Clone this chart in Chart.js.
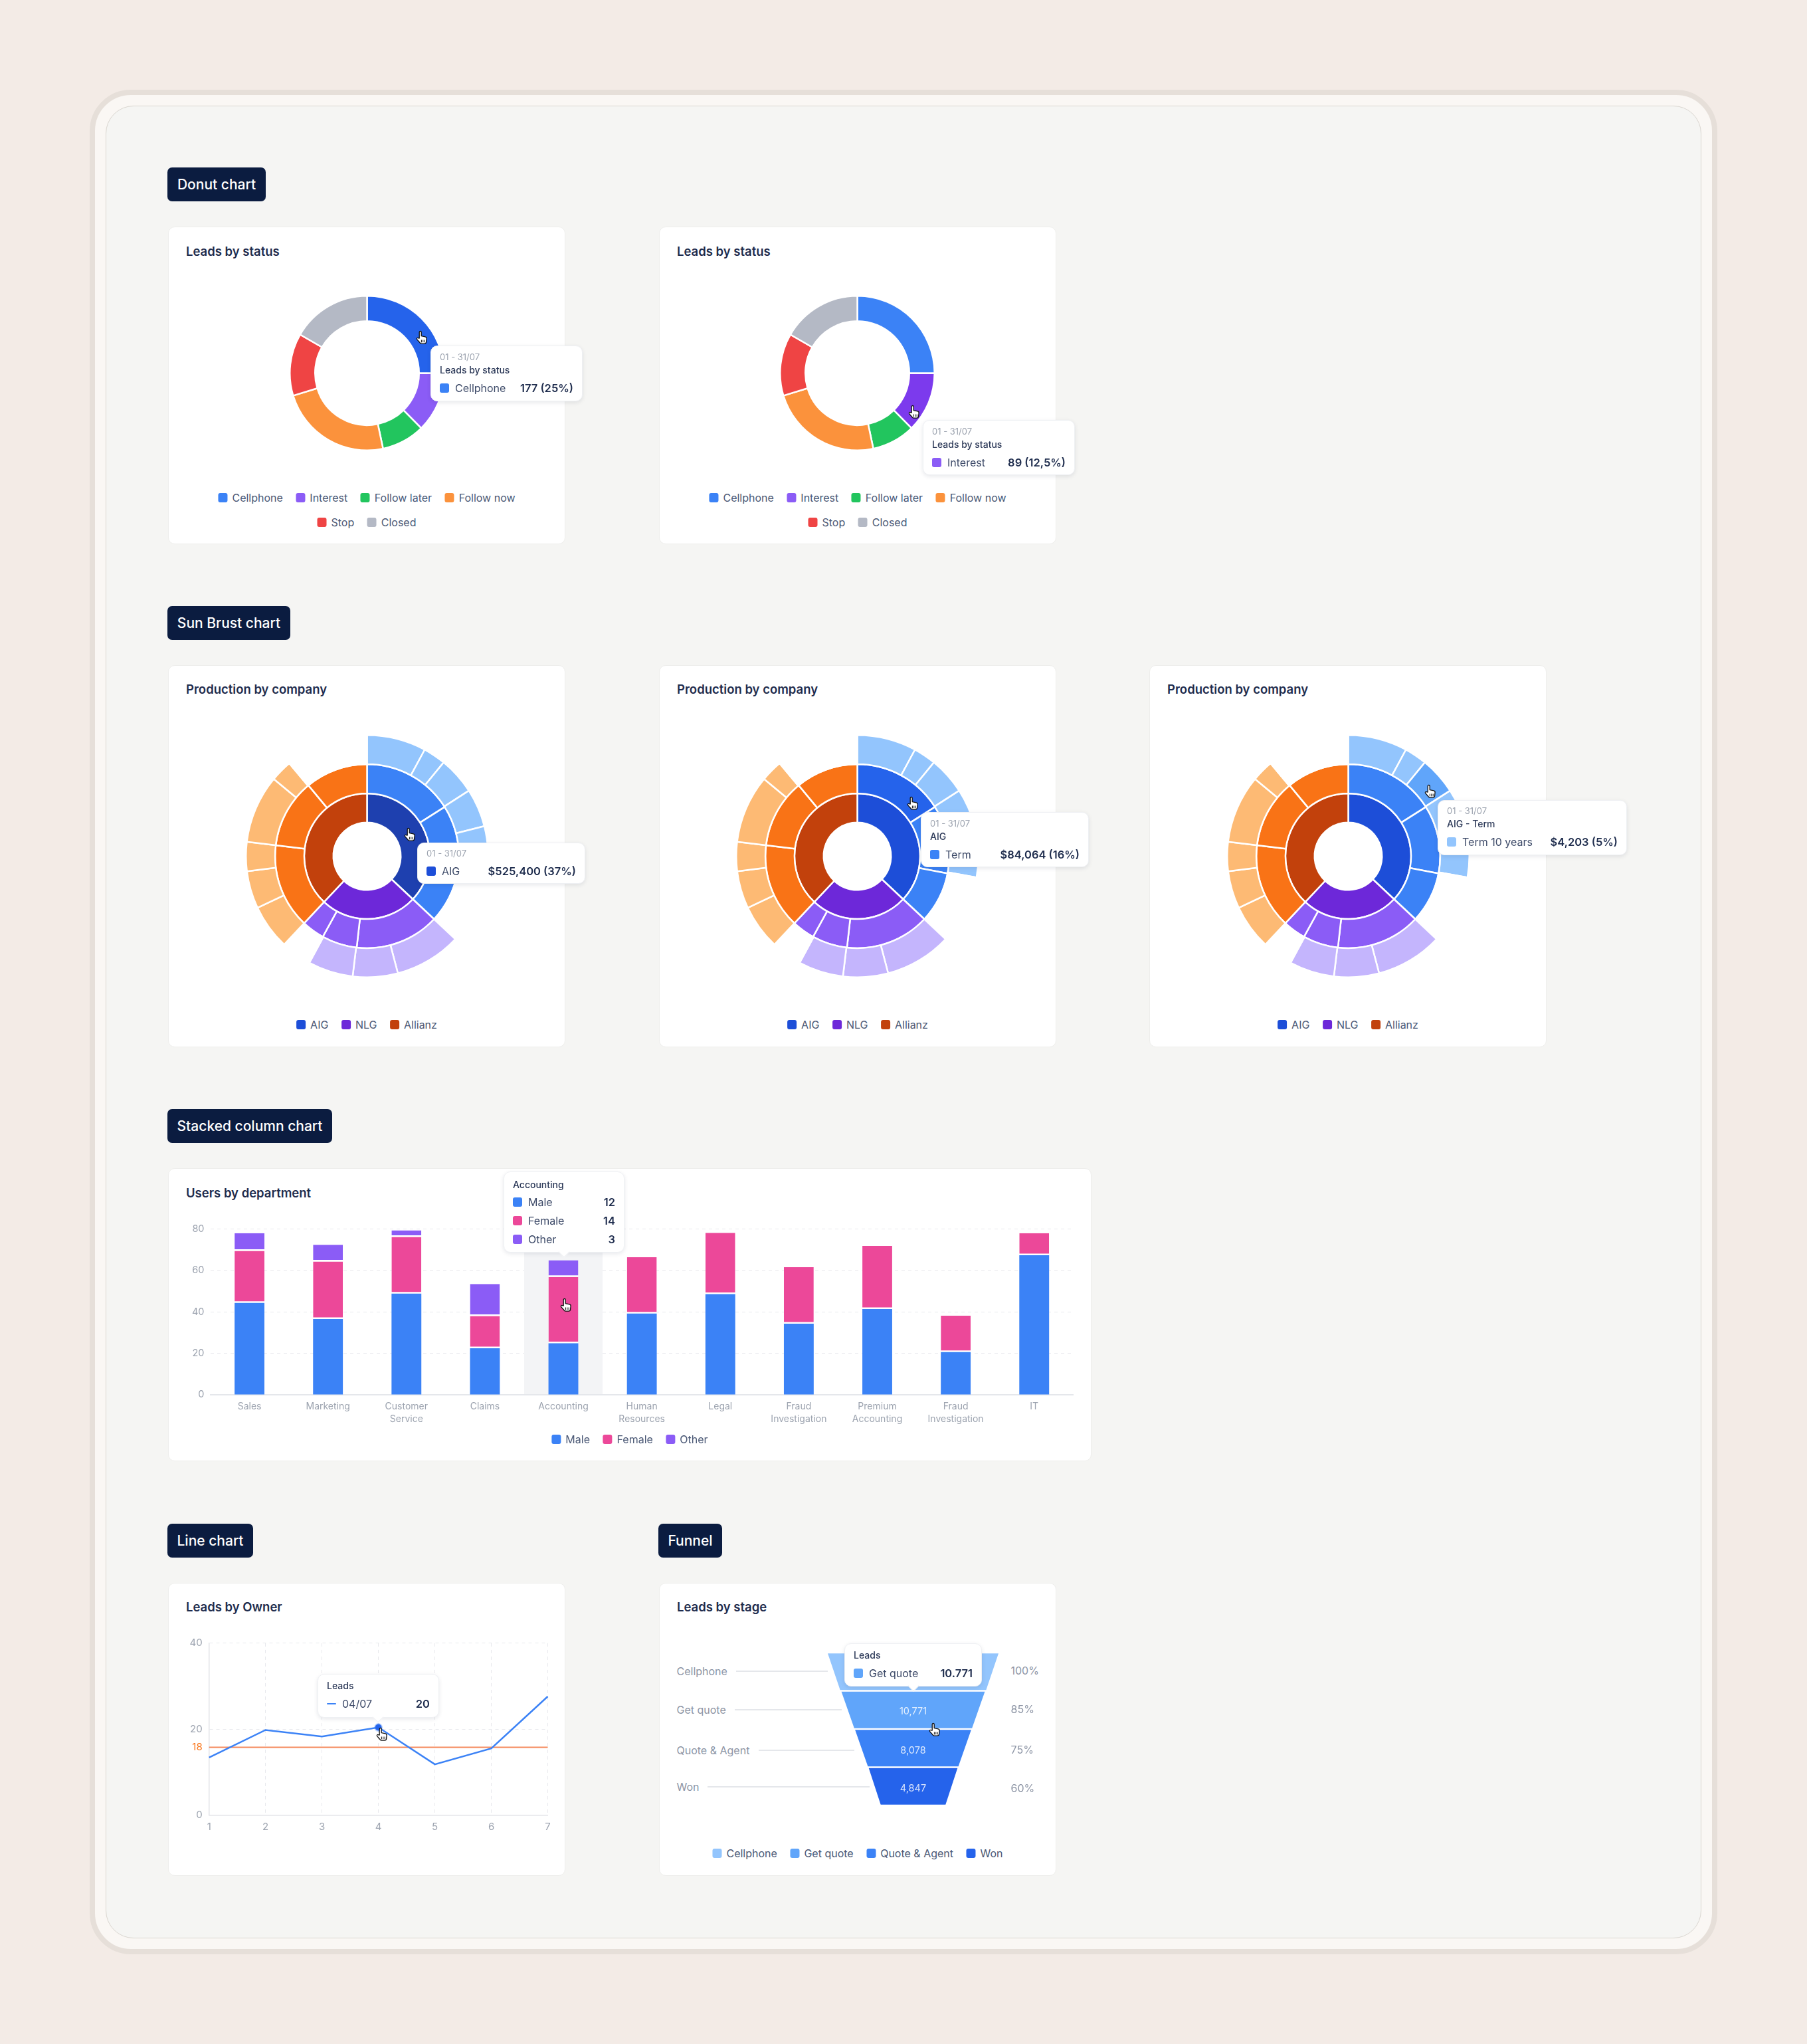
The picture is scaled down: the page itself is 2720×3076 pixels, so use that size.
<!DOCTYPE html>
<html lang="en">
<head>
  <meta charset="UTF-8" />
  <title>Chart components</title>
  <script src="https://cdn.jsdelivr.net/npm/chart.js"></script>
  <style>
    html, body {
      margin: 0;
      padding: 0;
      background: #f3ebe6;
      font-family: Inter, "Noto Sans", sans-serif;
    }

    #page {
      position: relative;
      width: 2720px;
      height: 3076px;
      overflow: hidden;
    }

    #frame {
      position: absolute;
      left: 135px;
      top: 135px;
      width: 2450px;
      height: 2806px;
      box-sizing: border-box;
      background: #faf7f4;
      border: 8px solid #e6dfd9;
      border-radius: 62px;
    }

    #panel {
      position: absolute;
      left: 159px;
      top: 159px;
      width: 2402px;
      height: 2758px;
      box-sizing: border-box;
      background: #f5f5f3;
      border: 1px solid #d9d5cf;
      border-radius: 42px;
    }

    .badge {
      position: absolute;
      height: 51px;
      line-height: 52px;
      text-align: center;
      background: #0b1c40;
      color: #fff;
      font-size: 21px;
      font-weight: 500;
      border-radius: 7px;
    }

    .card {
      position: absolute;
      box-sizing: border-box;
      background: #fff;
      border: 1px solid #eeeeec;
      border-radius: 10px;
    }

    .txt {
      position: absolute;
      white-space: nowrap;
    }

    .title { font-size: 18.5px; font-weight: 600; color: #1e2c4d; }
    .muted { font-size: 16px; color: #8d95a5; }
    .date { font-size: 13px; color: #9ca3af; }
    .tip-head { font-size: 14px; font-weight: 500; color: #2b3857; }
    .tip-label { font-size: 16px; color: #3d4a68; }
    .tip-value { font-size: 16.5px; font-weight: 600; color: #1e2c4d; }

    .legend {
      position: absolute;
      display: flex;
      gap: 19.5px;
      transform: translate(-50%, -50%);
      font-size: 16px;
      color: #4a5875;
      white-space: nowrap;
    }

    .legend span {
      display: flex;
      align-items: center;
      gap: 7px;
    }

    .swatch {
      display: block;
      width: 14px;
      height: 14px;
      border-radius: 3px;
    }

    .tip {
      position: absolute;
      box-sizing: border-box;
      background: #fff;
      border: 1px solid #eef0f3;
      border-radius: 10px;
      box-shadow: 0 2px 6px rgba(20, 30, 60, 0.1);
      z-index: 5;
    }

    .arrow {
      position: absolute;
      width: 11px;
      height: 11px;
      background: #fff;
      border-right: 1px solid #eef0f3;
      border-bottom: 1px solid #eef0f3;
      transform: translate(-50%, -50%) rotate(45deg);
      z-index: 6;
    }

    .hand {
      position: absolute;
      width: 18px;
      height: 22px;
      transform: translate(-50%, -50%);
      z-index: 7;
    }

    canvas { position: absolute; }
  </style>
</head>
<body>
  <div id="page">
    <div id="frame"></div>
    <div id="panel"></div>
  </div>

  <script>
    // Leads by status
    const statusLabels = ['Cellphone', 'Interest', 'Follow later', 'Follow now', 'Stop', 'Closed'];
    const statusValues = [177, 89, 64, 167, 92, 118];
    const statusColors = ['#3b82f6', '#8b5cf6', '#22c55e', '#fb923c', '#ef4444', '#b4b9c5'];

    // Production by company, shares of the whole circle in %
    const companyLabels = ['AIG', 'NLG', 'Allianz'];
    const companyShares = [37, 25, 38];
    const companyColors = ['#1d4ed8', '#6d28d9', '#c2410c'];
    const productShares = [16, 12, 9, 14.8, 6.2, 4, 14.9, 12.1, 11];
    const productColors = ['#3b82f6', '#3b82f6', '#3b82f6', '#8b5cf6', '#8b5cf6', '#8b5cf6', '#f97316', '#f97316', '#f97316'];
    const planShares = [7.9, 3, 5, 5.1, 6.8, 9.2, 8.9, 6, 6, 4.1, 6, 5, 3.9, 9.1, 2.9, 11.1];
    const planColors = ['#93c5fd', '#93c5fd', '#93c5fd', '#93c5fd', '#93c5fd', 'transparent',
      '#c4b5fd', '#c4b5fd', '#c4b5fd', 'transparent',
      '#fdba74', '#fdba74', '#fdba74', '#fdba74', '#fdba74', 'transparent'];

    // Users by department
    const deptLabels = ['Sales', 'Marketing', ['Customer', 'Service'], 'Claims', 'Accounting', ['Human', 'Resources'],
      'Legal', ['Fraud', 'Investigation'], ['Premium', 'Accounting'], ['Fraud', 'Investigation'], 'IT'];
    const maleUsers = [44.3, 36.5, 48.8, 22.4, 24.8, 39.2, 48.5, 34.3, 41.3, 20.6, 67.3];
    const femaleUsers = [25.1, 27.7, 27.3, 15.6, 32, 27.1, 29.6, 27.2, 30.5, 17.5, 10.6];
    const otherUsers = [8.5, 8.1, 3.2, 15.4, 8.1, null, null, null, null, null, null];
    const genderLabels = ['Male', 'Female', 'Other'];
    const genderColors = ['#3b82f6', '#ec4899', '#8b5cf6'];

    // Leads by Owner
    const ownerDays = ['1', '2', '3', '4', '5', '6', '7'];
    const ownerLeads = [13.4, 19.8, 18.3, 20.4, 11.8, 15.5, 27.6];
    const ownerTicks = [0, 20, 40];
    // the "18" target sits at this height on the drawn axis
    const targetLabel = '18';
    const targetLevel = 15.75;

    // Leads by stage, funnel widths in % of the widest edge
    const stageLabels = ['Cellphone', 'Get quote', 'Quote & Agent', 'Won'];
    const stageCounts = ['', '10,771', '8,078', '4,847'];
    const stagePercents = ['100%', '85%', '75%', '60%'];
    const stageTopWidth = [100, 84, 68, 52];
    const stageBottomWidth = [85.5, 69, 53, 38];
    const stageColors = ['#93c5fd', '#60a5fa', '#3b82f6', '#2563eb'];

    Chart.defaults.font.family = 'Inter';
    Chart.defaults.animation = false;
    Chart.defaults.plugins.legend.display = false;
    Chart.defaults.plugins.tooltip.enabled = false;
    Chart.defaults.responsive = false;
    Chart.defaults.events = [];

    const page = document.getElementById('page');

    function addBox(className, x, y, w, h) {
      const el = document.createElement('div');
      el.className = className;
      el.style.left = x + 'px';
      el.style.top = y + 'px';
      if (w) el.style.width = w + 'px';
      if (h) el.style.height = h + 'px';
      page.appendChild(el);
      return el;
    }

    // align: 0 = left edge at x, 0.5 = centred, 1 = right edge at x
    function addText(className, x, cy, text, align, z) {
      const el = addBox('txt ' + className, x, cy);
      el.textContent = text;
      el.style.transform = `translate(${-(align || 0) * 100}%, -50%)`;
      if (z) el.style.zIndex = z;
      return el;
    }

    function addBadge(text, x, y, w) {
      addBox('badge', x, y, w).textContent = text;
    }

    function addCard(title, x, y, w, h, titleY) {
      addBox('card', x, y, w, h);
      addText('title', x + 27, titleY, title);
    }

    function addLegend(labels, colors, cx, cy) {
      const el = addBox('legend', cx, cy);
      labels.forEach((label, i) => {
        const item = document.createElement('span');
        const swatch = document.createElement('i');
        swatch.className = 'swatch';
        swatch.style.background = colors[i];
        item.appendChild(swatch);
        item.appendChild(document.createTextNode(label));
        el.appendChild(item);
      });
    }

    function addCanvas(x, y, w, h) {
      const canvas = document.createElement('canvas');
      canvas.width = w;
      canvas.height = h;
      canvas.style.left = x + 'px';
      canvas.style.top = y + 'px';
      page.appendChild(canvas);
      return canvas;
    }

    function addHand(x, y) {
      const el = addBox('hand', x, y);
      el.innerHTML = '<svg viewBox="0 0 18 22" width="18" height="22">' +
        '<path d="M5.2 12V3a1.5 1.5 0 0 1 3 0v5.6l6 1.2c1.3.3 2 1.3 1.9 2.5l-.5 5.2c-.1 1.5-1.3 2.6-2.8 2.6H8.6c-1 0-1.9-.5-2.5-1.3L1.6 13.600c-.9-1.300.9-2.800 2.100-1.800z" fill="#fff" stroke="#111" stroke-width="1.3" stroke-linejoin="round"/>' +
        '<path d="M8.400 14.500v3.800M10.800 14.500v3.800M13.200 14.500v3.800" stroke="#111" stroke-width="1"/></svg>';
    }

    function addSwatch(x, cy, color, isDash) {
      const h = isDash ? 2.5 : 14;
      const swatch = addBox('swatch', x, cy - h / 2);
      swatch.style.background = color;
      swatch.style.height = h + 'px';
      swatch.style.position = 'absolute';
      swatch.style.zIndex = 6;
    }

    function addTip(x, y, w, h, parts) {
      addBox('tip', x, y, w, h);
      const left = x + 14;
      if (parts.date) addText('date', left, parts.dateY, parts.date, 0, 6);
      if (parts.head) addText('tip-head', left, parts.headY, parts.head, 0, 6);
      addSwatch(left, parts.rowY, parts.color, parts.dash);
      addText('tip-label', left + 23, parts.rowY, parts.label, 0, 6);
      addText('tip-value', x + w - 14, parts.rowY, parts.value, 1, 6);
    }

    // --- donut ---
    function drawDonut(left, top, hoverIndex, hoverColor) {
      const colors = statusColors.slice();
      colors[hoverIndex] = hoverColor;
      new Chart(addCanvas(left, top, 235, 235), {
        type: 'doughnut',
        data: {
          labels: statusLabels,
          datasets: [{ data: statusValues, backgroundColor: colors, borderColor: '#fff', borderWidth: 2.5 }]
        },
        options: { cutout: 78.25 }
      });
    }

    // --- sunburst ---
    function drawSunburst(left, top, hover) {
      const inner = companyColors.slice();
      const middle = productColors.slice();
      const outer = planColors.slice();
      if (hover.company) inner[0] = hover.company;
      if (hover.product) middle[0] = hover.product;
      if (hover.plan) outer[2] = hover.plan;
      new Chart(addCanvas(left, top, 367, 367), {
        type: 'doughnut',
        data: {
          datasets: [
            { data: planShares, backgroundColor: outer, borderColor: '#fff', borderWidth: 2.5 },
            { data: productShares, backgroundColor: middle, borderColor: '#fff', borderWidth: 2.5 },
            { data: companyShares, backgroundColor: inner, borderColor: '#fff', borderWidth: 2.5 }
          ]
        },
        options: { cutout: 50.75 }
      });
    }

    addBadge('Donut chart', 252, 252, 148);
    addCard('Leads by status', 253, 341, 598, 478, 377.5);
    addCard('Leads by status', 992, 341, 598, 478, 377.5);
    drawDonut(435, 444, 0, '#2563eb');
    drawDonut(1173, 444, 1, '#7c3aed');
    addLegend(statusLabels.slice(0, 4), statusColors, 552, 748.5);
    addLegend(statusLabels.slice(4), statusColors.slice(4), 552, 785.5);
    addLegend(statusLabels.slice(0, 4), statusColors, 1291, 748.5);
    addLegend(statusLabels.slice(4), statusColors.slice(4), 1291, 785.5);
    addTip(648, 520, 229, 84, {
      date: '01 - 31/07', dateY: 536.5, head: 'Leads by status', headY: 555.5,
      color: '#3b82f6', label: 'Cellphone', value: '177 (25%)', rowY: 583.5
    });
    addTip(1389, 632, 229, 83, {
      date: '01 - 31/07', dateY: 648.5, head: 'Leads by status', headY: 667.5,
      color: '#8b5cf6', label: 'Interest', value: '89 (12,5%)', rowY: 695.5
    });
    addHand(635, 508);
    addHand(1376, 620);

    addBadge('Sun Brust chart', 252, 912, 185);
    addCard('Production by company', 253, 1001, 598, 575, 1037);
    addCard('Production by company', 992, 1001, 598, 575, 1037);
    addCard('Production by company', 1730, 1001, 598, 575, 1037);
    drawSunburst(369, 1105, { company: '#1e40af' });
    drawSunburst(1107, 1105, { product: '#2563eb' });
    drawSunburst(1846, 1105, { plan: '#60a5fa' });
    addLegend(companyLabels, companyColors, 552, 1542);
    addLegend(companyLabels, companyColors, 1291, 1542);
    addLegend(companyLabels, companyColors, 2029, 1542);
    addTip(628, 1268, 253, 62, {
      date: '01 - 31/07', dateY: 1284,
      color: '#1d4ed8', label: 'AIG', value: '$525,400 (37%)', rowY: 1310.5
    });
    addTip(1386, 1222, 253, 83, {
      date: '01 - 31/07', dateY: 1238.5, head: 'AIG', headY: 1257.5,
      color: '#3b82f6', label: 'Term', value: '$84,064 (16%)', rowY: 1285.5
    });
    addTip(2164, 1204, 285, 83, {
      date: '01 - 31/07', dateY: 1219.5, head: 'AIG - Term', headY: 1238.5,
      color: '#93c5fd', label: 'Term 10 years', value: '$4,203 (5%)', rowY: 1266.5
    });
    addHand(617, 1256);
    addHand(1374, 1209);
    addHand(2153, 1191);

    // --- stacked columns ---
    const highlightBand = {
      id: 'highlightBand',
      beforeDatasetsDraw(chart) {
        const { ctx, chartArea, scales } = chart;
        const step = scales.x.getPixelForValue(1) - scales.x.getPixelForValue(0);
        const center = scales.x.getPixelForValue(deptLabels.indexOf('Accounting'));
        ctx.save();
        ctx.fillStyle = '#f3f4f6';
        ctx.fillRect(center - step / 2, chartArea.top, step, chartArea.bottom - chartArea.top - 1);
        ctx.restore();
      }
    };

    addBadge('Stacked column chart', 252, 1669, 248);
    addCard('Users by department', 253, 1758, 1390, 441, 1795);
    new Chart(addCanvas(253, 1758, 1390, 441), {
      type: 'bar',
      data: {
        labels: deptLabels,
        datasets: [maleUsers, femaleUsers, otherUsers].map((values, i) => ({
          label: genderLabels[i],
          data: values,
          backgroundColor: genderColors[i],
          borderColor: '#fff',
          borderSkipped: false,
          borderWidth: { top: 0, left: 0, right: 0, bottom: i ? 2.5 : 0 },
          barPercentage: 0.38,
          categoryPercentage: 1
        }))
      },
      options: {
        layout: { padding: { top: 91.3, right: 27.2 } },
        scales: {
          x: {
            stacked: true,
            afterFit: scale => { scale.height = 100; },
            grid: { display: false, drawTicks: false },
            border: { color: '#e5e7eb', width: 2 },
            ticks: { color: '#9ca3af', font: { size: 14, lineHeight: 1.3 }, padding: 9, maxRotation: 0, autoSkip: false }
          },
          y: {
            stacked: true,
            min: 0,
            max: 80,
            afterFit: scale => { scale.width = 63.5; },
            grid: { color: '#e8e9ed', drawTicks: false },
            border: { display: false, dash: [5, 5] },
            ticks: { color: '#9ca3af', font: { size: 14.5 }, padding: 9, stepSize: 20 }
          }
        }
      },
      plugins: [highlightBand]
    });
    addLegend(genderLabels, genderColors, 948, 2166);
    addTip(758, 1763, 182, 122, {
      head: 'Accounting', headY: 1781.5,
      color: genderColors[0], label: 'Male', value: '12', rowY: 1809
    });
    [['Female', '14', 1837, 1], ['Other', '3', 1865, 2]].forEach(([label, value, y, i]) => {
      addSwatch(772, y, genderColors[i]);
      addText('tip-label', 795, y, label, 0, 6);
      addText('tip-value', 926, y, value, 1, 6);
    });
    addBox('arrow', 849, 1884);
    addHand(852, 1964);

    // --- line ---
    addBadge('Line chart', 252, 2293, 129);
    addCard('Leads by Owner', 253, 2382, 598, 441, 2418);
    new Chart(addCanvas(253, 2381, 599, 442), {
      type: 'line',
      data: {
        labels: ownerDays,
        datasets: [
          {
            label: 'Leads',
            data: ownerLeads,
            borderColor: '#3b82f6',
            borderWidth: 2.5,
            tension: 0,
            clip: false,
            pointRadius: ownerLeads.map((v, i) => (i === 3 ? 5 : 0)),
            pointBackgroundColor: '#2563eb',
            pointBorderColor: 'rgba(59, 130, 246, 0.3)',
            pointBorderWidth: 3
          },
          {
            label: 'Target',
            data: ownerDays.map(() => targetLevel),
            borderColor: '#f58a5c',
            borderWidth: 2,
            pointRadius: 0
          }
        ]
      },
      options: {
        layout: { padding: { top: 91.9, right: 27.5 } },
        scales: {
          x: {
            offset: false,
            afterFit: scale => { scale.height = 91.6; },
            grid: { color: '#e8e9ed', drawTicks: false },
            border: { color: '#e2e3e8', width: 1.5, dash: [5, 5] },
            ticks: { color: '#9ca3af', font: { size: 15 }, padding: 9, maxRotation: 0, autoSkip: false }
          },
          y: {
            min: 0,
            max: 40,
            afterBuildTicks: scale => {
              scale.ticks = [...ownerTicks, targetLevel].sort((a, b) => a - b).map(value => ({ value }));
            },
            afterFit: scale => { scale.width = 61.7; },
            grid: {
              drawTicks: false,
              color: ctx => (ctx.tick && ctx.tick.value === targetLevel ? 'transparent' : '#e8e9ed')
            },
            border: { color: '#e2e3e8', width: 1.5, dash: [5, 5] },
            ticks: {
              autoSkip: false,
              padding: 10,
              font: { size: 15 },
              color: ctx => (ctx.tick.value === targetLevel ? '#f97316' : '#9ca3af'),
              callback: value => (value === targetLevel ? targetLabel : value)
            }
          }
        }
      }
    });
    addTip(478, 2519, 183, 66, {
      head: 'Leads', headY: 2536,
      color: '#3b82f6', label: '04/07', value: '20', rowY: 2564, dash: true
    });
    addBox('arrow', 569, 2584);
    addHand(575, 2610);

    // --- funnel: one closed filled shape per stage on the chart's own scales ---
    addBadge('Funnel', 991, 2293, 96);
    addCard('Leads by stage', 992, 2382, 598, 441, 2418);
    new Chart(addCanvas(1246, 2487, 257, 230), {
      type: 'scatter',
      data: {
        datasets: stageLabels.map((label, i) => ({
          label,
          data: [
            { x: -stageTopWidth[i] / 2, y: i + 0.02 },
            { x: stageTopWidth[i] / 2, y: i + 0.02 },
            { x: stageBottomWidth[i] / 2, y: i + 0.98 },
            { x: -stageBottomWidth[i] / 2, y: i + 0.98 }
          ],
          showLine: true,
          fill: 'shape',
          backgroundColor: stageColors[i],
          borderWidth: 0,
          pointRadius: 0
        }))
      },
      options: {
        scales: {
          x: { display: false, min: -50, max: 50 },
          y: { display: false, min: 0, max: stageLabels.length, reverse: true }
        }
      }
    });

    const stageRowY = [2515, 2573, 2633.5, 2689];
    const connectorX = [[1107.5, 1246], [1106, 1267], [1142, 1286], [1065, 1309]];
    const stagePercentY = [2514, 2572, 2633, 2691];
    const stageCountY = [2515, 2573.5, 2632.5, 2690];
    stageLabels.forEach((label, i) => {
      addText('muted', 1018.5, stageRowY[i], label);
      const line = addBox('', connectorX[i][0], stageRowY[i] - 1, connectorX[i][1] - connectorX[i][0], 2);
      line.style.position = 'absolute';
      line.style.background = '#e5e7eb';
      addText('muted', 1521.5, stagePercentY[i], stagePercents[i]);
      if (stageCounts[i]) {
        const count = addText('', 1374.5, stageCountY[i], stageCounts[i], 0.5);
        count.style.fontSize = '14.5px';
        count.style.color = 'rgba(255, 255, 255, 0.82)';
      }
    });
    addLegend(stageLabels, stageColors, 1291, 2789);
    addTip(1271, 2473, 207, 65, {
      head: 'Leads', headY: 2490,
      color: '#60a5fa', label: 'Get quote', value: '10.771', rowY: 2518
    });
    addBox('arrow', 1374.5, 2537);
    addHand(1407, 2603);
  </script>
</body>
</html>
